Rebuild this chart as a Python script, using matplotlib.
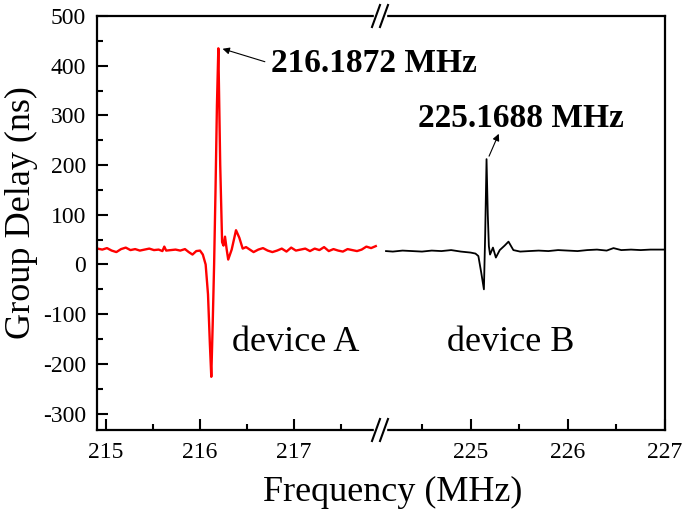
import numpy as np
import matplotlib
matplotlib.use("Agg")
import matplotlib.pyplot as plt
from matplotlib.lines import Line2D
from matplotlib.patches import Rectangle
from matplotlib.ticker import MultipleLocator

plt.rcParams['font.family'] = ['Liberation Serif', 'DejaVu Serif']
plt.rcParams['axes.unicode_minus'] = False

# device A (red)
freq_a = [214.91, 214.96, 215.01, 215.06, 215.11, 215.16, 215.21, 215.26, 215.31,
          215.36, 215.41, 215.46, 215.51, 215.56, 215.60, 215.62, 215.64, 215.69,
          215.74, 215.79, 215.84, 215.88, 215.92, 215.96, 216.00, 216.03, 216.06,
          216.085, 216.105, 216.12, 216.135, 216.15, 216.165, 216.18, 216.195,
          216.215, 216.235, 216.25, 216.266, 216.284, 216.30, 216.337, 216.383,
          216.418, 216.454, 216.49, 216.53, 216.57, 216.62, 216.67, 216.72, 216.77,
          216.82, 216.87, 216.92, 216.97, 217.02, 217.07, 217.12, 217.17, 217.22,
          217.27, 217.32, 217.37, 217.42, 217.47, 217.52, 217.57, 217.62, 217.67,
          217.72, 217.77, 217.82, 217.87]
delay_a = [32, 30, 33, 28, 25, 31, 34, 29, 31,
           28, 30, 32, 29, 30, 27, 36, 28, 29,
           30, 28, 31, 25, 20, 27, 28, 20, 0,
           -60, -160, -226, -120, 0, 150, 320, 435,
           200, 45, 38, 56, 30, 10, 30, 69,
           54, 32, 35, 30, 25, 30, 33, 28, 25,
           28, 32, 26, 34, 28, 30, 32, 27, 32,
           29, 35, 27, 31, 28, 26, 31, 29, 27,
           30, 36, 33, 37]

# device B (black)
freq_b = [224.13, 224.2, 224.3, 224.4, 224.5, 224.6, 224.7, 224.8, 224.9, 225.0,
          225.05, 225.08, 225.11, 225.137, 225.15, 225.164, 225.177, 225.188,
          225.2, 225.23, 225.26, 225.30, 225.35, 225.39, 225.44, 225.51, 225.6,
          225.7, 225.8, 225.9, 226.0, 226.1, 226.2, 226.3, 226.4, 226.47, 226.55,
          226.65, 226.75, 226.85, 226.95, 227.0]
delay_b = [27, 26, 28, 27, 26, 28, 27, 29, 26, 24,
           22, 17, -17, -50, 60, 212, 100, 37,
           20, 34, 14, 29, 38, 46, 29, 26, 27,
           28, 27, 29, 28, 27, 29, 30, 28, 33, 29,
           30, 29, 30, 30, 30]

W, H = 686, 516
fig = plt.figure(figsize=(W / 100, H / 100), dpi=100)

# axes edges in pixels
left, brk, right = 97, 380, 665
top, bottom = 16, 430
fx = lambda px: px / W
fy = lambda py: 1 - py / H

axL = fig.add_axes([fx(left), fy(bottom), fx(brk) - fx(left), fy(top) - fy(bottom)])
axR = fig.add_axes([fx(brk), fy(bottom), fx(right) - fx(brk), fy(top) - fy(bottom)],
                   sharey=axL)

axL.plot(freq_a, delay_a, color='#ff0000', lw=1.7)
axR.plot(freq_b, delay_b, color='black', lw=1.3)

axL.set_xlim(214.904, 217.915)
axR.set_xlim(224.068, 227.0)
axL.set_ylim(-333, 500)

for ax in (axL, axR):
    ax.patch.set_visible(False)
    for s in ax.spines.values():
        s.set_linewidth(1.6)
    ax.xaxis.set_major_locator(MultipleLocator(1))
    ax.xaxis.set_minor_locator(MultipleLocator(0.5))
    ax.tick_params(which='both', direction='in', width=1.5, labelsize=17,
                   top=False, right=False)
    ax.tick_params(which='major', length=8)
    ax.tick_params(which='minor', length=4.5)
    ax.tick_params(axis='x', pad=9)

axL.spines['right'].set_visible(False)
axR.spines['left'].set_visible(False)
axL.yaxis.set_major_locator(MultipleLocator(100))
axL.yaxis.set_minor_locator(MultipleLocator(50))
axL.tick_params(axis='y', pad=8)
axR.tick_params(axis='y', which='both', left=False, labelleft=False)

# annotations
axL.text(216.755, 388, '216.1872 MHz', fontsize=24, fontweight='bold',
         ha='left', va='baseline')
axL.annotate('', xy=(216.24, 434), xytext=(216.69, 408),
             arrowprops=dict(arrowstyle='-|>', lw=0.8, color='black',
                             mutation_scale=10, shrinkA=0, shrinkB=0))
axR.text(224.46, 277, '225.1688 MHz', fontsize=24, fontweight='bold',
         ha='left', va='baseline')
axR.annotate('', xy=(225.29, 263), xytext=(225.19, 218),
             arrowprops=dict(arrowstyle='-|>', lw=0.8, color='black',
                             mutation_scale=10, shrinkA=0, shrinkB=0))
axL.text(216.34, -174, 'device A', fontsize=26, ha='left', va='baseline')
axR.text(224.76, -174, 'device B', fontsize=26, ha='left', va='baseline')

fig.text(fx(21), fy(213), 'Group Delay (ns)', fontsize=26, rotation=90,
         ha='center', va='center')
fig.text(fx(393), fy(492), 'Frequency (MHz)', fontsize=26, ha='center', va='center')

# break marks on top and bottom spines
for yb in (top, bottom):
    fig.add_artist(Rectangle((fx(brk - 6), fy(yb + 3)), fx(12), fy(0) - fy(6),
                             transform=fig.transFigure, color='white', zorder=5))
    for dx in (-4, 4):
        fig.add_artist(Line2D([fx(brk + dx - 4), fx(brk + dx + 4)],
                              [fy(yb + 11), fy(yb - 11)],
                              transform=fig.transFigure, color='black',
                              lw=1.5, zorder=6))

plt.savefig('out.png', dpi=100)
